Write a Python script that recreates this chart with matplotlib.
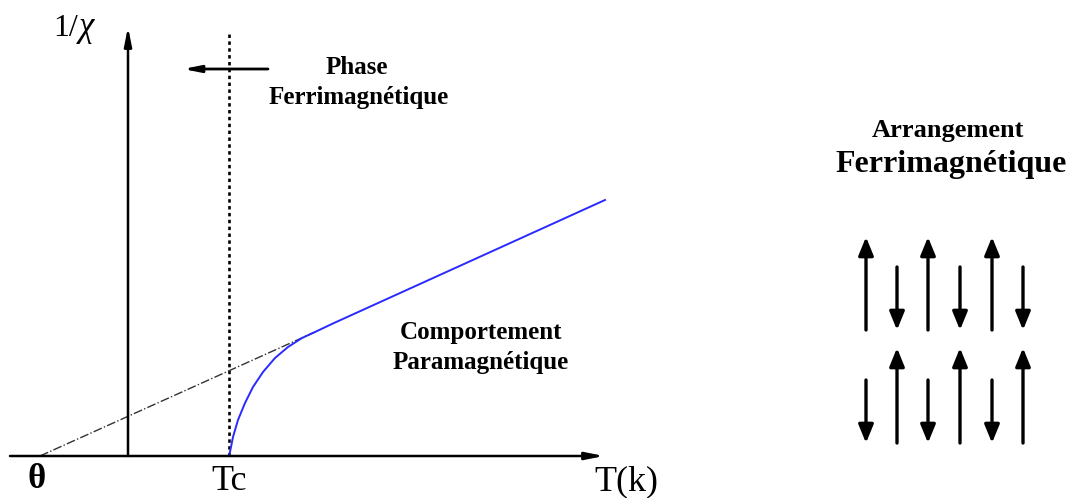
"""
plot.py - Diagramme 1/chi en fonction de T pour un ferrimagnétique.
"""

import matplotlib
matplotlib.use("Agg")
import matplotlib.pyplot as plt

# --- données (repère en pixels, y vers le bas) ---
AXE_Y0 = 456            # ordonnée de l'axe T
AXE_X0 = 128            # abscisse de l'axe 1/chi
TC_X = 229              # position de Tc

# asymptote (tirets-points) depuis theta
asym_x = [40, 315]
asym_y = [456, 332]

# courbe 1/chi (bleue)
courbe_x = [229, 230, 233, 238, 245, 253, 263, 275, 288, 302, 315, 334, 605]
courbe_y = [456, 452, 437, 420, 403, 387, 372, 358, 347, 338, 332, 323, 200]

# flèches de spin : (y_base, y_pointe)
fleches_x_a = [866, 928, 992]
fleches_x_b = [897, 960, 1023]
haut_up = (330, 237)      # rangée 1, flèches montantes
haut_down = (267, 330)    # rangée 1, flèches descendantes
bas_up = (443, 348)       # rangée 2, flèches montantes
bas_down = (380, 443)     # rangée 2, flèches descendantes

SERIF = ["Liberation Serif", "DejaVu Serif"]


def fleche(ax, x0, y0, x1, y1, lw=2.2, hl=0.9, hw=0.45):
    ax.annotate("", xy=(x1, y1), xytext=(x0, y0),
                arrowprops=dict(arrowstyle=f"-|>,head_length={hl},head_width={hw}",
                                color="black", lw=lw, shrinkA=0, shrinkB=0))


def texte(ax, x, y, s, taille, gras=False, style="normal"):
    ax.text(x, y, s, fontsize=taille, family=SERIF, style=style,
            weight="bold" if gras else "normal", ha="center", va="baseline")


def main():
    fig = plt.figure(figsize=(10.71, 4.98), dpi=100)
    ax = fig.add_axes([0, 0, 1, 1])
    ax.set_xlim(0, 1071)
    ax.set_ylim(498, 0)
    ax.axis("off")

    # axes du diagramme
    fleche(ax, 10, AXE_Y0, 604, AXE_Y0, lw=1.8, hl=1.1, hw=0.22)
    fleche(ax, AXE_X0, AXE_Y0, AXE_X0, 27, lw=1.8, hl=1.1, hw=0.22)

    # ligne de Tc
    ax.plot([TC_X, TC_X], [AXE_Y0, 32], color="black", lw=1.9,
            ls=(0, (1.3, 1.3)))

    # asymptote et courbe
    ax.plot(asym_x, asym_y, color="#333333", lw=1, ls="-.")
    ax.plot(courbe_x, courbe_y, color="#2a2aff", lw=1.4)

    # flèche "phase ferrimagnétique"
    fleche(ax, 268, 69, 183, 69, lw=2.0, hl=1.0, hw=0.2)

    # textes
    ax.text(66, 36, "1/", fontsize=23, family=SERIF, ha="center", va="baseline")
    texte(ax, 86, 36, "χ", 25, style="italic")
    texte(ax, 357, 74, "Phase", 18, gras=True)
    texte(ax, 359, 104, "Ferrimagnétique", 18, gras=True)
    texte(ax, 481, 339, "Comportement", 18, gras=True)
    texte(ax, 481, 369, "Paramagnétique", 18, gras=True)
    texte(ax, 37, 488, "θ", 25, gras=True)
    texte(ax, 229, 490, "Tc", 26)
    texte(ax, 626, 490, "T(k)", 26)

    texte(ax, 948, 137, "Arrangement", 19, gras=True)
    texte(ax, 951, 172, "Ferrimagnétique", 23, gras=True)

    # spins
    for x in fleches_x_a:
        fleche(ax, x, haut_up[0], x, haut_up[1], lw=2.4, hl=1.1, hw=0.45)
        fleche(ax, x, bas_down[0], x, bas_down[1], lw=2.4, hl=1.1, hw=0.45)
    for x in fleches_x_b:
        fleche(ax, x, haut_down[0], x, haut_down[1], lw=2.4, hl=1.1, hw=0.45)
        fleche(ax, x, bas_up[0], x, bas_up[1], lw=2.4, hl=1.1, hw=0.45)

    fig.savefig("out.png", dpi=100)
    plt.close(fig)


if __name__ == "__main__":
    main()
